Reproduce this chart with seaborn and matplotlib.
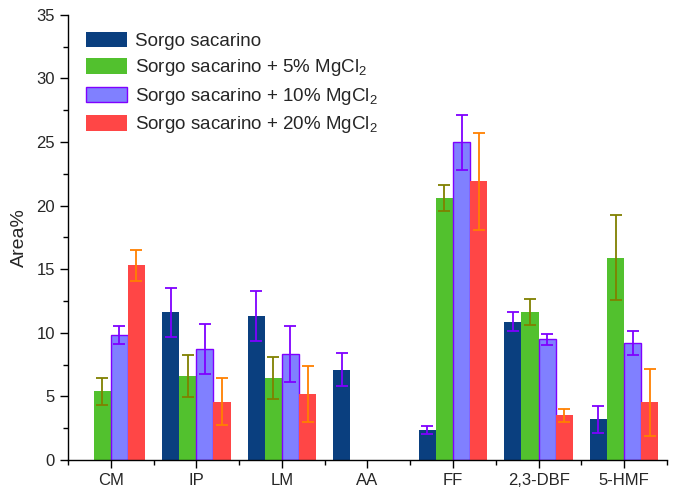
import matplotlib
matplotlib.use('Agg')
import matplotlib.pyplot as plt
from matplotlib.ticker import MultipleLocator
import seaborn as sns
import pandas as pd
import numpy as np

# compounds on the x axis
compounds = ['CM', 'IP', 'LM', 'AA', 'FF', '2,3-DBF', '5-HMF']
series = ['Sorgo sacarino',
          'Sorgo sacarino + 5% MgCl$_2$',
          'Sorgo sacarino + 10% MgCl$_2$',
          'Sorgo sacarino + 20% MgCl$_2$']

# Area% values (nan = not detected)
s0 = [np.nan, 11.6, 11.35, 7.1, 2.36, 10.88, 3.2]
s5 = [5.4, 6.63, 6.43, np.nan, 20.58, 11.64, 15.89]
s10 = [9.85, 8.76, 8.34, np.nan, 24.96, 9.5, 9.2]
s20 = [15.3, 4.6, 5.2, np.nan, 21.9, 3.5, 4.55]

# error bars
e0 = [np.nan, 1.93, 1.97, 1.28, 0.34, 0.77, 1.06]
e5 = [1.05, 1.65, 1.67, np.nan, 1.0, 1.02, 3.35]
e10 = [0.7, 1.97, 2.23, np.nan, 2.17, 0.43, 0.96]
e20 = [1.22, 1.85, 2.19, np.nan, 3.8, 0.54, 2.63]

bar_colors = ['#0a3f7f', '#52c12e', '#8080ff', '#ff4646']
err_colors = ['#7f00ff', '#808000', '#7f00ff', '#ff8000']

df = pd.DataFrame({
    'compound': compounds * 4,
    'series': np.repeat(series, len(compounds)),
    'area': s0 + s5 + s10 + s20,
})
errs = [e0, e5, e10, e20]

sns.set_style('ticks')
plt.rcParams['font.family'] = ['Liberation Sans', 'DejaVu Sans']
plt.rcParams['mathtext.fontset'] = 'custom'
plt.rcParams['mathtext.rm'] = 'Liberation Sans'

fig = plt.figure(figsize=(6.73, 4.92), dpi=100)
ax = fig.add_axes([0.101, 0.065, 0.89, 0.905])

sns.barplot(data=df, x='compound', y='area', hue='series', order=compounds,
            hue_order=series, palette=bar_colors, width=0.8, linewidth=0,
            saturation=1, errorbar=None, ax=ax)

bar_containers = list(ax.containers)
for i, cont in enumerate(bar_containers):
    for bar in cont:
        h = bar.get_height()
        if not np.isfinite(h) or h == 0:
            continue
        xc = bar.get_x() + bar.get_width() / 2
        k = int(round(xc))
        if i == 2:
            bar.set_edgecolor('#7f00ff')
            bar.set_linewidth(1.0)
        e = errs[i][k]
        if np.isfinite(e):
            ax.errorbar(xc, h, yerr=e, color=err_colors[i], capsize=4,
                        elinewidth=1.3, capthick=1.3, zorder=5)

ax.set_xlim(-0.5, 6.5)
ax.set_ylim(0, 35)
ax.yaxis.set_major_locator(MultipleLocator(5))
ax.yaxis.set_minor_locator(MultipleLocator(2.5))
ax.xaxis.set_minor_locator(MultipleLocator(0.5))
ax.set_xticks(range(len(compounds)))
ax.set_xticklabels(compounds)
ax.tick_params(axis='both', which='major', length=6, width=1, labelsize=12, color='black')
ax.tick_params(axis='both', which='minor', length=3.5, width=1, color='black')
ax.set_xlabel('')
ax.set_ylabel('Area%', fontsize=14, labelpad=6)
sns.despine(ax=ax)
for sp in ['left', 'bottom']:
    ax.spines[sp].set_color('black')
    ax.spines[sp].set_linewidth(1)

leg = ax.legend(loc='upper left', bbox_to_anchor=(0.002, 1.0), frameon=False,
                fontsize=13.5, handlelength=2.2, handleheight=0.9,
                labelspacing=0.4, handletextpad=0.4, borderpad=0.4)
leg.get_patches()[2].set_edgecolor('#7f00ff')
leg.get_patches()[2].set_linewidth(1.0)

fig.savefig('out.png', dpi=100)
